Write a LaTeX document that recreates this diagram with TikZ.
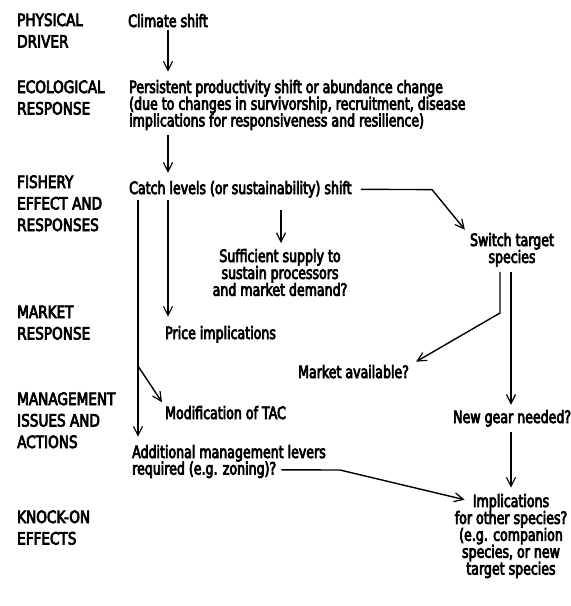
\documentclass[tikz,border=0pt]{standalone}
\usepackage{fontspec}
\setmainfont[FakeStretch=0.74,FakeBold=4.2]{DejaVu Sans}
\newfontfamily\stagefont[FakeStretch=0.8,FakeBold=4.2]{DejaVu Sans}
\usetikzlibrary{arrows.meta}

% stacked lines with an exact baseline pitch; the box baseline is the first line
\newcommand\stackL[1]{\vtop{\lineskiplimit=-100pt\lineskip=0pt\halign{##\hfil\cr#1\crcr}}}
\newcommand\stackC[1]{\vtop{\lineskiplimit=-100pt\lineskip=0pt\halign{\hfil##\hfil\cr#1\crcr}}}

\tikzset{
  stage/.style={anchor=base west, inner sep=0pt, font=\stagefont\fontsize{17}{21.5}\selectfont},
  txt/.style={anchor=base west, inner sep=0pt, font=\fontsize{17}{16.7}\selectfont},
  txtc/.style={anchor=base, inner sep=0pt, font=\fontsize{17}{16.9}\selectfont},
  flow/.style={line width=1.4pt, -{Straight Barb[length=9pt,width=9pt,line width=1.2pt]}},
}

\begin{document}
\begin{tikzpicture}[x=1pt, y=-1pt]
\useasboundingbox (0,0) rectangle (571,606);

% stage labels in the left column
\node[stage] (physical)   at (17,26)  {\stackL{PHYSICAL\cr DRIVER}};
\node[stage] (ecological) at (17,93)  {\stackL{ECOLOGICAL\cr RESPONSE}};
\node[stage] (fishery)    at (17,188) {\stackL{FISHERY\cr EFFECT AND\cr RESPONSES}};
\node[stage] (marketlab)  at (17,318) {\stackL{MARKET\cr RESPONSE}};
\node[stage] (mgmt)       at (17,405) {\stackL{MANAGEMENT\cr ISSUES AND\cr ACTIONS}};
\node[stage] (knock)      at (17,523) {\stackL{KNOCK-ON\cr EFFECTS}};

% chain of effects
\node[txt] (climate) at (128,27) {Climate shift};
\node[txt] (persist) at (129,93) {\stackL{Persistent productivity shift or abundance change\cr
  (due to changes in survivorship, recruitment, disease\cr
  implications for responsiveness and resilience)}};
\node[txt] (catch) at (129,194) {Catch levels (or sustainability) shift};
\node[txtc] (supply) at (280,262) {\stackC{Sufficient supply to\cr sustain processors\cr and market demand?}};
\node[txtc] (switch) at (512,246) {\stackC{Switch target\cr species}};
\node[txt] (price) at (165,339) {Price implications};
\node[txt] (market) at (298,378) {Market available?};
\node[txt] (tac) at (165,419) {Modification of TAC};
\node[txt] (gear) at (453,423) {New gear needed?};
\node[txt] (addl1) at (132,458) {Additional management levers};
\node[txt] (addl2) at (132,474.5) {required (e.g. zoning)?};
\node[txtc] (impl) at (511,507) {\stackC{Implications\cr for other species?\cr (e.g. companion\cr
  species, or new\cr target species}};

% x positions of the vertical runs and the bend points
\coordinate (cx) at (168,0);
\coordinate (lx) at (138,0);
\coordinate (sx) at (281,0);
\coordinate (gx) at (511,0);
\coordinate (mx) at (500,0);
\coordinate (br) at (138,366);
\coordinate (k1) at (432,189.6);
\coordinate (k2) at (500,313);
\coordinate (k3) at (340,470);

\draw[flow, shorten <=3pt, shorten >=8.2pt] (climate.south -| cx) -- (persist.north -| cx);
\draw[flow, shorten <=5pt, shorten >=8.1pt] (persist.south -| cx) -- (catch.north -| cx);
\draw[flow, shorten <=12.4pt, shorten >=5.8pt] (catch.south -| sx) -- (supply.north -| sx);
\draw[flow, shorten <=2.4pt, shorten >=9.2pt] (catch.south -| cx) -- (price.north -| cx);
\draw[flow, shorten <=2.4pt, shorten >=8.2pt] (catch.south -| lx) -- (addl1.north -| lx);
\draw[flow] (br) -- ([shift={(-3,-3.7)}]tac.north west);
\draw[flow, shorten <=9pt] (catch.east) -- (k1) -- ([shift={(-5,-3.2)}]switch.north west);
\draw[flow, shorten <=5.4pt] (switch.south -| mx) -- (k2) -- ([shift={(7,-3.2)}]market.north east);
\draw[flow, shorten <=5.4pt, shorten >=5.1pt] (switch.south -| gx) -- (gear.north -| gx);
\draw[flow, shorten <=5.4pt, shorten >=6.2pt] (gear.south -| gx) -- (impl.north -| gx);
\draw[flow, shorten <=5pt] (addl2.east) -- (k3) -- ([shift={(10,5.8)}]impl.north west);
\end{tikzpicture}
\end{document}
